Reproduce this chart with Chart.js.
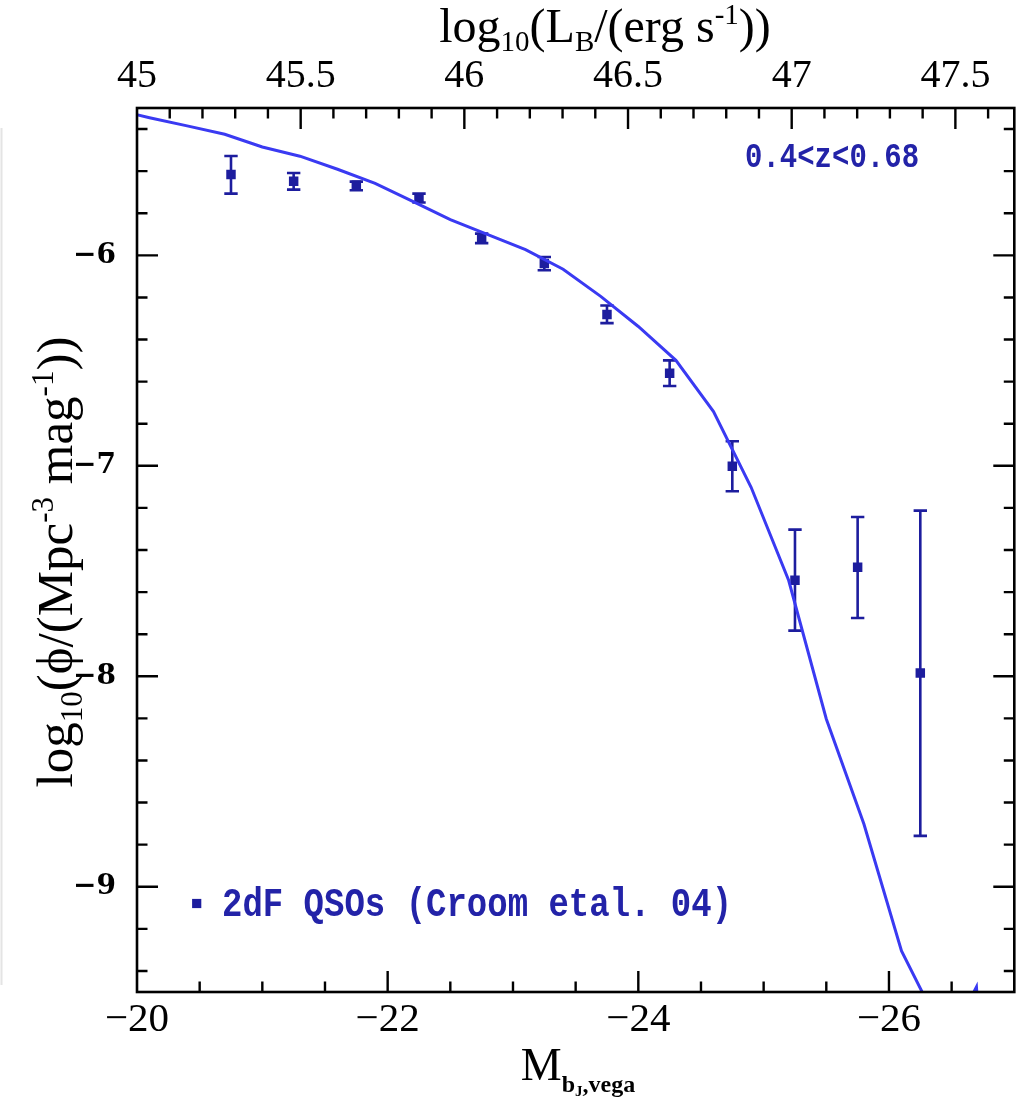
<!DOCTYPE html>
<html>
<head>
<meta charset="utf-8">
<title>QSO luminosity function 0.4&lt;z&lt;0.68</title>
<script src="https://cdn.jsdelivr.net/npm/chart.js@4.4.0/dist/chart.umd.min.js"></script>
<style>
  html, body { margin: 0; padding: 0; background: #fff; }
  canvas { display: block; }
</style>
</head>
<body>
<canvas id="lfChart" width="1021" height="1098"></canvas>
<script>
// 2dF QSOs (Croom et al. 04), bins in M_bJ
const qsoMag = [-20.75, -21.25, -21.75, -22.25, -22.75, -23.25, -23.75, -24.25, -24.75, -25.25, -25.75, -26.25];
const qsoPhi = [-5.616, -5.648, -5.667, -5.728, -5.918, -6.039, -6.281, -6.560, -7.002, -7.544, -7.482, -7.984];
const qsoLow = [-5.707, -5.688, -5.691, -5.749, -5.942, -6.071, -6.322, -6.621, -7.121, -7.783, -7.723, -8.758];
const qsoHigh = [-5.528, -5.609, -5.650, -5.707, -5.897, -6.008, -6.238, -6.499, -6.883, -7.303, -7.243, -7.213];

// model curve
const modelMag = [-19.8, -20.1, -20.4, -20.7, -21.0, -21.3, -21.6, -21.9, -22.2, -22.5, -22.8, -23.1,
                  -23.4, -23.7, -24.0, -24.3, -24.6, -24.9, -25.2, -25.5, -25.8, -26.1, -26.4];
const modelPhi = [-5.305, -5.346, -5.385, -5.425, -5.485, -5.529, -5.591, -5.658, -5.744, -5.830, -5.902, -5.973,
                  -6.066, -6.195, -6.338, -6.499, -6.742, -7.102, -7.545, -8.203, -8.702, -9.305, -9.66];

// little bit of a second curve poking in at the bottom
const stubMag = [-26.66, -26.698, -26.703];
const stubPhi = [-9.52, -9.476, -9.52];

// tick labels
const magTicks = [-20, -22, -24, -26];
const lumTicks = [45, 45.5, 46, 46.5, 47, 47.5];
const phiTicks = [-6, -7, -8, -9];

const pointColor = '#1d1d9e';
const lineColor = '#3a3af2';

function minus(v) {
  return v < 0 ? '\u2212' + Math.abs(v) : String(v);
}

function steps(from, to, step) {
  const out = [];
  for (let v = from; v <= to + 1e-9; v += step) out.push(Math.round(v * 1000) / 1000);
  return out;
}

const errorBars = {
  id: 'errorBars',
  beforeDatasetsDraw(chart) {
    const ctx = chart.ctx;
    const x = chart.scales.x, y = chart.scales.y;
    const a = chart.chartArea;
    ctx.save();
    ctx.beginPath();
    ctx.rect(a.left, a.top, a.right - a.left, a.bottom - a.top);
    ctx.clip();
    ctx.strokeStyle = pointColor;
    ctx.lineWidth = 2.6;
    for (let i = 0; i < qsoMag.length; i++) {
      const px = x.getPixelForValue(qsoMag[i]);
      const y1 = y.getPixelForValue(qsoLow[i]);
      const y2 = y.getPixelForValue(qsoHigh[i]);
      ctx.beginPath();
      ctx.moveTo(px, y1); ctx.lineTo(px, y2);
      ctx.moveTo(px - 6.7, y1); ctx.lineTo(px + 6.7, y1);
      ctx.moveTo(px - 6.7, y2); ctx.lineTo(px + 6.7, y2);
      ctx.stroke();
    }
    ctx.restore();
  }
};

const frame = {
  id: 'frame',
  afterDraw(chart) {
    const ctx = chart.ctx;
    const a = chart.chartArea;
    const x = chart.scales.x, x2 = chart.scales.x2, y = chart.scales.y;
    ctx.save();
    // faint edge of the screenshot on the far left
    ctx.strokeStyle = '#e4e4e4';
    ctx.lineWidth = 2;
    ctx.beginPath();
    ctx.moveTo(1.5, 128); ctx.lineTo(1.5, 985);
    ctx.stroke();

    ctx.strokeStyle = '#000';
    ctx.lineWidth = 2.6;
    ctx.strokeRect(a.left, a.top, a.right - a.left, a.bottom - a.top);
    ctx.lineWidth = 2.4;
    ctx.beginPath();
    // bottom axis
    steps(-27, -20, 0.5).forEach(v => {
      const p = x.getPixelForValue(v);
      if (p <= a.left + 1 || p >= a.right - 1) return;
      const len = magTicks.includes(v) ? 21 : 10.5;
      ctx.moveTo(p, a.bottom); ctx.lineTo(p, a.bottom - len);
    });
    // top axis
    steps(45, 47.6, 0.1).forEach(v => {
      const p = x2.getPixelForValue(v);
      if (p <= a.left + 1 || p >= a.right - 1) return;
      const major = Math.abs(v * 2 - Math.round(v * 2)) < 1e-6;
      const len = major ? 21 : 10.5;
      ctx.moveTo(p, a.top); ctx.lineTo(p, a.top + len);
    });
    // left and right axes
    steps(-9.4, -5.4, 0.2).forEach(v => {
      const p = y.getPixelForValue(v);
      const major = Math.abs(v - Math.round(v)) < 1e-6;
      const len = major ? 21 : 10.5;
      ctx.moveTo(a.left, p); ctx.lineTo(a.left + len, p);
      ctx.moveTo(a.right, p); ctx.lineTo(a.right - len, p);
    });
    ctx.stroke();
    ctx.restore();
  }
};

// draws text made of pieces with sub/superscripts, centred at cx on baseline
function richText(ctx, parts, cx, base) {
  let w = 0;
  parts.forEach(p => { ctx.font = p.font; w += ctx.measureText(p.t).width; });
  let cur = cx - w / 2;
  parts.forEach(p => {
    ctx.font = p.font;
    ctx.fillText(p.t, cur, base + (p.dy || 0));
    cur += ctx.measureText(p.t).width;
  });
}

const labels = {
  id: 'labels',
  afterDraw(chart) {
    const ctx = chart.ctx;
    const big = '48px "Liberation Serif"';
    const small = '29px "Liberation Serif"';
    ctx.save();
    ctx.fillStyle = '#000';
    ctx.textBaseline = 'alphabetic';
    ctx.textAlign = 'left';

    // top title
    richText(ctx, [
      { t: 'log', font: big }, { t: '10', font: small, dy: 9 },
      { t: '(L', font: big }, { t: 'B', font: small, dy: 9 },
      { t: '/(erg s', font: big }, { t: '-1', font: small, dy: -18 },
      { t: '))', font: big }
    ], 605, 42);

    // bottom title
    richText(ctx, [
      { t: 'M', font: '46px "Liberation Serif"' },
      { t: 'b', font: 'bold 24px "Liberation Serif"', dy: 12 },
      { t: 'J', font: 'bold 15px "Liberation Serif"', dy: 16 },
      { t: ',vega', font: 'bold 24px "Liberation Serif"', dy: 12 }
    ], 578, 1080);

    // left title
    const ybig = '51px "Liberation Serif"';
    const ysmall = '31px "Liberation Serif"';
    ctx.save();
    ctx.translate(72, 562);
    ctx.rotate(-Math.PI / 2);
    richText(ctx, [
      { t: 'log', font: ybig }, { t: '10', font: ysmall, dy: 10 },
      { t: '(\u03d5/(Mpc', font: ybig }, { t: '-3', font: ysmall, dy: -19 },
      { t: ' mag', font: ybig }, { t: '-1', font: ysmall, dy: -19 },
      { t: '))', font: ybig }
    ], 0, 0);
    ctx.restore();

    // redshift label
    ctx.fillStyle = '#2323a8';
    ctx.save();
    ctx.translate(745, 167);
    ctx.scale(1, 1.22);
    ctx.font = 'bold 29px "Liberation Mono"';
    ctx.fillText('0.4<z<0.68', 0, 0);
    ctx.restore();

    // legend
    const lx = 196.7, ly = 903.5;
    ctx.fillStyle = pointColor;
    ctx.fillRect(lx - 4.6, ly - 4.6, 9.2, 9.2);
    ctx.save();
    ctx.translate(222, 916);
    ctx.scale(1, 1.2);
    ctx.font = 'bold 34px "Liberation Mono"';
    ctx.fillStyle = '#2323a8';
    ctx.fillText('2dF QSOs (Croom etal. 04)', 0, 0);
    ctx.restore();

    ctx.restore();
  }
};

new Chart(document.getElementById('lfChart'), {
  type: 'scatter',
  data: {
    datasets: [
      {
        label: 'model',
        type: 'line',
        data: modelMag.map((m, i) => ({ x: m, y: modelPhi[i] })),
        borderColor: lineColor,
        borderWidth: 3,
        pointRadius: 0,
        fill: false,
        tension: 0,
        order: 0
      },
      {
        label: 'stub',
        type: 'line',
        data: stubMag.map((m, i) => ({ x: m, y: stubPhi[i] })),
        borderColor: lineColor,
        borderWidth: 3,
        pointRadius: 0,
        fill: false,
        order: 0
      },
      {
        label: '2dF QSOs (Croom etal. 04)',
        data: qsoMag.map((m, i) => ({ x: m, y: qsoPhi[i] })),
        pointStyle: 'rect',
        pointRadius: 6.7,
        backgroundColor: pointColor,
        borderColor: pointColor,
        borderWidth: 0,
        order: 1
      }
    ]
  },
  options: {
    responsive: false,
    animation: false,
    devicePixelRatio: 1,
    layout: { padding: { left: 0, right: 3, top: 0, bottom: 0 } },
    plugins: {
      legend: { display: false },
      tooltip: { enabled: false }
    },
    scales: {
      x: {
        type: 'linear',
        position: 'bottom',
        min: -27,
        max: -20,
        reverse: true,
        grid: { display: false, drawTicks: false },
        border: { display: false },
        afterBuildTicks: s => { s.ticks = magTicks.map(v => ({ value: v })); },
        afterFit: s => { s.height = 106; },
        ticks: {
          autoSkip: false,
          maxRotation: 0,
          padding: 4,
          color: '#000',
          font: { family: 'Liberation Serif', size: 41 },
          callback: v => minus(v)
        }
      },
      x2: {
        type: 'linear',
        position: 'top',
        min: 45,
        max: 47.68,
        grid: { display: false, drawTicks: false },
        border: { display: false },
        afterBuildTicks: s => { s.ticks = lumTicks.map(v => ({ value: v })); },
        afterFit: s => { s.height = 108; },
        ticks: {
          autoSkip: false,
          maxRotation: 0,
          padding: 8,
          color: '#000',
          font: { family: 'Liberation Serif', size: 40 },
          callback: v => String(v)
        }
      },
      y: {
        type: 'linear',
        position: 'left',
        min: -9.5,
        max: -5.3,
        grid: { display: false, drawTicks: false },
        border: { display: false },
        afterBuildTicks: s => { s.ticks = phiTicks.map(v => ({ value: v })); },
        afterFit: s => { s.width = 137; },
        ticks: {
          autoSkip: false,
          padding: 21,
          color: '#000',
          font: { family: 'DejaVu Serif', size: 28, weight: 'bold' },
          callback: v => minus(v)
        }
      }
    }
  },
  plugins: [errorBars, frame, labels]
});
</script>
</body>
</html>
